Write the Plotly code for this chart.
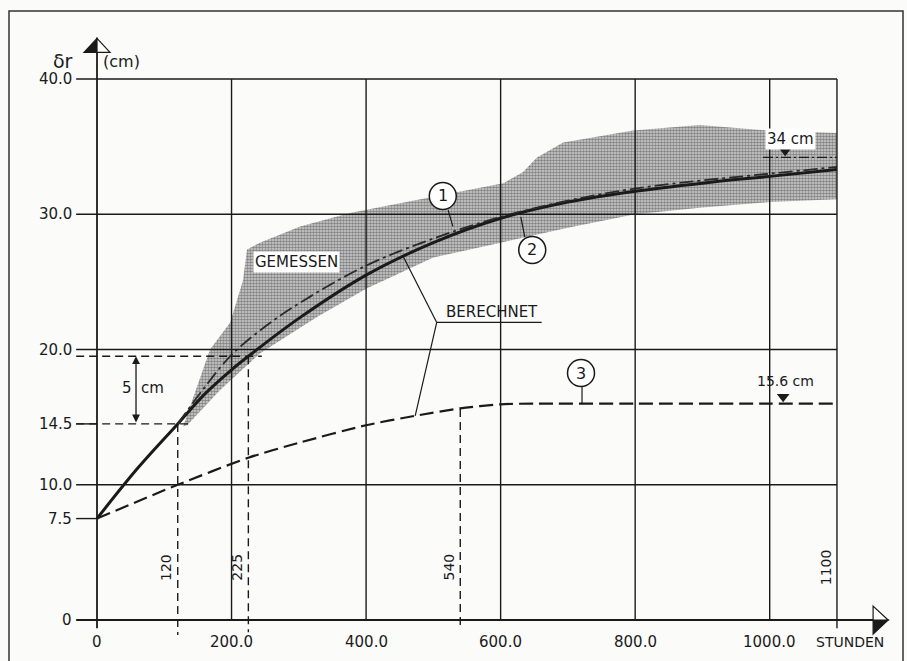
import plotly.graph_objects as go

# ---------------- data ----------------
X_TICKS = [0, 200, 400, 600, 800, 1000]
X_TICK_LABELS = ["0", "200.0", "400.0", "600.0", "800.0", "1000.0"]
Y_TICKS = [0, 7.5, 10, 14.5, 20, 30, 40]
Y_TICK_LABELS = ["0", "7.5", "10.0", "14.5", "20.0", "30.0", "40.0"]
GRID_X = [200, 400, 600, 800, 1000]
GRID_Y = [10, 20, 30, 40]
X_END = 1100

# curve 1 (berechnet, dash-dot)
HOURS_1 = [120, 160, 200, 250, 300, 400, 500, 600, 700, 800, 900, 1000, 1100]
DELTA_1 = [14.5, 17.2, 19.6, 21.7, 23.4, 26.2, 28.2, 29.8, 31.0, 31.9, 32.5, 33.0, 33.5]
# curve 2 (berechnet, solid)
HOURS_2 = [0, 60, 120, 160, 200, 225, 300, 400, 500, 600, 700, 800, 900, 1000, 1100]
DELTA_2 = [7.5, 11.2, 14.5, 16.7, 18.5, 19.5, 22.3, 25.5, 27.9, 29.7, 30.9, 31.7, 32.3, 32.8, 33.3]
# curve 3 (dashed)
HOURS_3 = [0, 120, 225, 300, 400, 473, 540, 600, 650, 800, 1000, 1100]
DELTA_3 = [7.5, 10.0, 12.0, 13.1, 14.4, 15.1, 15.65, 15.95, 16.0, 16.0, 16.0, 16.0]

# measured band (GEMESSEN)
BAND_UP_X = [128, 168, 198, 217, 223, 242, 302, 376, 500, 604, 633, 654, 693, 797, 896, 996, 1100]
BAND_UP_Y = [14.3, 20.0, 22.0, 25.1, 27.4, 27.9, 29.1, 30.1, 31.3, 32.3, 33.1, 34.2, 35.3, 36.2, 36.6, 36.2, 36.0]
BAND_LO_X = [134, 183, 242, 327, 400, 500, 600, 700, 800, 900, 1000, 1100]
BAND_LO_Y = [14.4, 17.0, 19.7, 22.4, 24.5, 26.8, 27.9, 29.0, 30.0, 30.5, 30.9, 31.1]

# marked values
T_120, D_120 = 120, 14.5
T_225, D_225 = 225, 19.5
T_540, D_540 = 540, 15.6
FINAL_1 = 34.2
FINAL_3 = 16.0

# ---------------- figure ----------------
fig = go.Figure()
INK = "#1a1a1a"

band_x = BAND_UP_X + BAND_LO_X[::-1]
band_y = BAND_UP_Y + BAND_LO_Y[::-1]
fig.add_trace(go.Scatter(
    x=band_x, y=band_y, mode="lines", fill="toself", line=dict(width=0),
    fillcolor="rgba(0,0,0,0)",
    fillpattern=dict(shape=".", size=3, solidity=0.6, fgcolor="#333", bgcolor="#d2d2d2"),
    hoverinfo="skip", showlegend=False))

fig.add_trace(go.Scatter(x=HOURS_3, y=DELTA_3, mode="lines",
                         line=dict(color=INK, width=2.2, dash="14px,6px", shape="spline", smoothing=0.7),
                         showlegend=False))
fig.add_trace(go.Scatter(x=HOURS_2, y=DELTA_2, mode="lines",
                         line=dict(color=INK, width=3, shape="spline", smoothing=1.0),
                         showlegend=False))
fig.add_trace(go.Scatter(x=HOURS_1, y=DELTA_1, mode="lines",
                         line=dict(color="#2a2a2a", width=1.8, dash="14px,4px,3px,4px", shape="spline", smoothing=1.0),
                         showlegend=False))

# triangles marking final values
fig.add_trace(go.Scatter(x=[1023, 1020], y=[FINAL_1 + 0.5, FINAL_3 + 0.5], mode="markers",
                         marker=dict(symbol="triangle-down", size=11, color=INK),
                         showlegend=False))

shapes = []
def line(x0, y0, x1, y1, w=1.4, dash=None, color=INK):
    d = dict(type="line", x0=x0, y0=y0, x1=x1, y1=y1, xref="x", yref="y",
             line=dict(color=color, width=w))
    if dash:
        d["line"]["dash"] = dash
    shapes.append(d)

X_LEFT = -31
# horizontal grid
for gy in GRID_Y:
    line(X_LEFT, gy, X_END, gy)
# short ticks
for ty in [7.5, 14.5]:
    line(X_LEFT, ty, 0, ty)
# vertical grid
for gx in GRID_X:
    line(gx, 0, gx, 40)
line(X_END, -0.6, X_END, 40)
# axes
line(X_LEFT, 0, 1176, 0, w=1.8)
line(0, -0.6, 0, 43, w=1.8)

# dashed reference lines
DASH = "8px,5px"
line(X_LEFT, D_225, 245, D_225, dash=DASH)
line(X_LEFT, D_120, 138, D_120, dash=DASH)
line(T_120, D_120, T_120, -1.1, dash=DASH)
line(T_225, D_225, T_225, -0.9, dash=DASH)
line(T_540, D_540, T_540, -0.6, dash=DASH)
line(990, FINAL_1, X_END, FINAL_1, w=1.3, dash="10px,3px,2px,3px")

# leaders
line(522, 30.3, 529, 29.1, w=1.2)      # 1
line(636, 28.3, 630, 29.8, w=1.2)      # 2
line(721, 17.4, 721, 16.0, w=1.2)      # 3
line(505, 22.0, 661, 22.0, w=1.2)      # BERECHNET underline
line(505, 22.0, 455, 26.9, w=1.2)
line(505, 22.0, 473, 15.1, w=1.2)

# circles
for cx, cy in [(514, 31.35), (647, 27.36), (719.5, 18.26)]:
    shapes.append(dict(type="circle", xref="x", yref="y", xsizemode="pixel", ysizemode="pixel",
                       xanchor=cx, yanchor=cy, x0=-13.5, x1=13.5, y0=-13.5, y1=13.5,
                       line=dict(color=INK, width=1.5), fillcolor="white"))

# arrow heads
shapes.append(dict(type="path", xref="x", yref="y", xsizemode="pixel", ysizemode="pixel",
                   xanchor=0, yanchor=43, path="M 0,0 L -13,-14 L 0,-14 Z",
                   fillcolor=INK, line=dict(color=INK, width=1.2)))
shapes.append(dict(type="path", xref="x", yref="y", xsizemode="pixel", ysizemode="pixel",
                   xanchor=0, yanchor=43, path="M 0,0 L 13,-14 L 0,-14 Z",
                   fillcolor="white", line=dict(color=INK, width=1.2)))
shapes.append(dict(type="path", xref="x", yref="y", xsizemode="pixel", ysizemode="pixel",
                   xanchor=1176, yanchor=0, path="M 0,0 L -15,-14 L -15,0 Z",
                   fillcolor=INK, line=dict(color=INK, width=1.2)))
shapes.append(dict(type="path", xref="x", yref="y", xsizemode="pixel", ysizemode="pixel",
                   xanchor=1176, yanchor=0, path="M 0,0 L -15,14 L -15,0 Z",
                   fillcolor="white", line=dict(color=INK, width=1.2)))

# outer frame
shapes.append(dict(type="rect", xref="paper", yref="paper",
                   x0=9 / 907, x1=903 / 907, y0=-0.02, y1=1 - 11 / 661,
                   line=dict(color="#333", width=1.5), layer="below"))

FONT = "DejaVu Sans"
ann = []
def text(x, y, s, size=15, xanchor="center", yanchor="middle", angle=0, bg=None, xshift=0):
    a = dict(x=x, y=y, text=s, showarrow=False, xref="x", yref="y",
             xanchor=xanchor, yanchor=yanchor, textangle=angle, xshift=xshift,
             font=dict(family=FONT, size=size, color=INK))
    if bg:
        a["bgcolor"] = bg
        a["borderpad"] = 1
    ann.append(a)

for tx, tl in zip(X_TICKS, X_TICK_LABELS):
    text(tx, -1.6, tl, size=15)
text(1120, -1.6, "STUNDEN", size=14)
for ty, tl in zip(Y_TICKS, Y_TICK_LABELS):
    text(-34, ty, tl, size=15, xanchor="right")
text(-50, 41.3, "δr", size=19)
text(36, 41.3, "(cm)", size=16)

for tv in [T_120, T_225, T_540, X_END]:
    text(tv, 3.9, str(tv), size=14, angle=-90, xshift=-11)

text(297, 26.5, "GEMESSEN", size=15, bg="white")
text(587, 22.8, "BERECHNET", size=15)
text(514, 31.35, "1", size=16)
text(647, 27.36, "2", size=16)
text(719.5, 18.26, "3", size=16)
text(1031, 35.6, "34 cm", size=15, bg="white")
text(1024, 17.7, "15.6 cm", size=14)
text(44.6, 17.15, "5", size=15)
text(82, 17.15, "cm", size=15)

# 5 cm double arrow
ann.append(dict(x=58, y=D_225, ax=58, ay=D_120, xref="x", yref="y", axref="x", ayref="y",
                text="", showarrow=True, arrowhead=2, arrowside="end+start",
                arrowsize=1.2, arrowwidth=1.3, arrowcolor=INK))

fig.update_layout(
    width=907, height=661, margin=dict(l=0, r=0, t=0, b=0),
    paper_bgcolor="#fbfbfa", plot_bgcolor="#fbfbfa",
    xaxis=dict(range=[-144.2, 1204.1], visible=False, fixedrange=True),
    yaxis=dict(range=[-3.03, 45.84], visible=False, fixedrange=True),
    shapes=shapes, annotations=ann, showlegend=False,
)

fig.write_html("out.html", config={"displayModeBar": False},
               post_script="document.body.style.margin='0';document.body.style.overflow='hidden';")
